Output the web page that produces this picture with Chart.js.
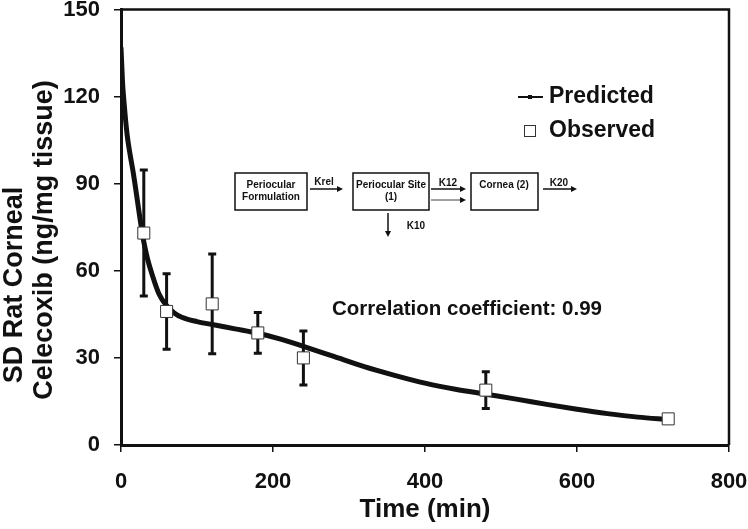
<!DOCTYPE html>
<html lang="en">
<head>
  <meta charset="UTF-8">
  <title>SD Rat Corneal Celecoxib</title>
  <script src="https://cdn.jsdelivr.net/npm/chart.js"></script>
  <style>
    html, body { margin: 0; padding: 0; background: #fff; }
  </style>
</head>
<body>
  <canvas id="myChart" width="748" height="529"></canvas>

  <script>
    // predicted curve
    const predTime = [0, 2, 4, 8, 12, 16, 20, 25, 30, 35, 40, 50, 60, 70, 80, 100, 120, 150, 180, 210, 240, 280, 320, 360, 400, 440, 480, 520, 560, 600, 640, 680, 720];
    const predConc = [137, 125, 118, 107, 100, 94, 87, 78, 70, 64, 59.5, 52, 48, 45.5, 44, 42.5, 41.5, 40, 38.5, 36.5, 34, 30.5, 27, 24, 21.3, 19.2, 17.5, 15.8, 14, 12.3, 10.8, 9.6, 8.8];

    // observed means and SD
    const obsTime = [30, 60, 120, 180, 240, 480, 720];
    const obsConc = [73, 46, 48.6, 38.6, 30, 18.9, 9];
    const obsErr = [21.7, 13, 17.2, 7, 9.3, 6.3, 0];

    const xTicks = [0, 200, 400, 600, 800];
    const yTicks = [0, 30, 60, 90, 120, 150];

    const FONT = '"Liberation Sans", Arial, sans-serif';
    const INK = '#111';

    function arrow(ctx, x1, y1, x2, y2, lw) {
      const ang = Math.atan2(y2 - y1, x2 - x1);
      const hl = 6;
      ctx.lineWidth = lw;
      ctx.beginPath();
      ctx.moveTo(x1, y1);
      ctx.lineTo(x2 - Math.cos(ang) * hl * 0.8, y2 - Math.sin(ang) * hl * 0.8);
      ctx.stroke();
      ctx.beginPath();
      ctx.moveTo(x2, y2);
      ctx.lineTo(x2 - hl * Math.cos(ang) + 3 * Math.sin(ang), y2 - hl * Math.sin(ang) - 3 * Math.cos(ang));
      ctx.lineTo(x2 - hl * Math.cos(ang) - 3 * Math.sin(ang), y2 - hl * Math.sin(ang) + 3 * Math.cos(ang));
      ctx.closePath();
      ctx.fill();
    }

    const extras = {
      id: 'extras',
      beforeDatasetsDraw(chart) {
        const { ctx, scales: { x, y } } = chart;
        ctx.save();
        ctx.strokeStyle = INK;
        ctx.lineWidth = 3;
        obsTime.forEach((t, i) => {
          if (!obsErr[i]) return;
          const px = x.getPixelForValue(t);
          const top = y.getPixelForValue(obsConc[i] + obsErr[i]);
          const bot = y.getPixelForValue(obsConc[i] - obsErr[i]);
          ctx.beginPath();
          ctx.moveTo(px, top); ctx.lineTo(px, bot);
          ctx.moveTo(px - 4, top); ctx.lineTo(px + 4, top);
          ctx.moveTo(px - 4, bot); ctx.lineTo(px + 4, bot);
          ctx.stroke();
        });
        ctx.restore();
      },
      afterDraw(chart) {
        const { ctx, chartArea: a } = chart;
        ctx.save();
        ctx.strokeStyle = INK;
        ctx.fillStyle = INK;

        // top and right edges of the frame
        ctx.lineWidth = 2.5;
        ctx.beginPath();
        ctx.moveTo(a.left, a.top);
        ctx.lineTo(a.right, a.top);
        ctx.lineTo(a.right, a.bottom);
        ctx.stroke();

        // y title, two lines
        ctx.font = 'bold 27px ' + FONT;
        ctx.textAlign = 'center';
        ctx.textBaseline = 'middle';
        [['SD Rat Corneal', 15, 285], ['Celecoxib (ng/mg tissue)', 45, 240]].forEach(([s, tx, ty]) => {
          ctx.save();
          ctx.translate(tx, ty);
          ctx.rotate(-Math.PI / 2);
          ctx.fillText(s, 0, 0);
          ctx.restore();
        });

        // legend
        ctx.font = 'bold 23px ' + FONT;
        ctx.textAlign = 'left';
        ctx.fillText('Predicted', 549, 97);
        ctx.fillText('Observed', 549, 131);
        ctx.lineWidth = 2;
        ctx.beginPath();
        ctx.moveTo(518, 97); ctx.lineTo(543, 97);
        ctx.stroke();
        ctx.fillRect(528, 95, 4, 4);
        ctx.lineWidth = 1;
        ctx.strokeStyle = '#333';
        ctx.strokeRect(524.5, 125.5, 11, 11);
        ctx.strokeStyle = INK;

        // correlation
        ctx.font = 'bold 20.5px ' + FONT;
        ctx.fillText('Correlation coefficient: 0.99', 332, 309);

        // compartment diagram
        ctx.lineWidth = 1.5;
        ctx.strokeRect(235, 173, 72, 37);
        ctx.strokeRect(353, 173, 76, 37);
        ctx.strokeRect(471, 173, 67, 37);
        ctx.font = 'bold 10px ' + FONT;
        ctx.textAlign = 'center';
        ctx.fillText('Periocular', 271, 185);
        ctx.fillText('Formulation', 271, 197);
        ctx.fillText('Periocular Site', 391, 185);
        ctx.fillText('(1)', 391, 197);
        ctx.fillText('Cornea (2)', 504, 185);
        ctx.fillText('Krel', 324, 182);
        ctx.fillText('K12', 448, 183);
        ctx.fillText('K20', 559, 183);
        ctx.fillText('K10', 416, 226);
        arrow(ctx, 310, 189, 343, 189, 1.5);
        arrow(ctx, 431, 189, 466, 189, 1.5);
        arrow(ctx, 431, 200, 466, 200, 0.8);
        arrow(ctx, 543, 189, 577, 189, 1.5);
        arrow(ctx, 388, 213, 388, 237, 1.5);
        ctx.restore();
      }
    };

    new Chart(document.getElementById('myChart'), {
      type: 'line',
      data: {
        datasets: [
          {
            label: 'Observed',
            data: obsTime.map((t, i) => ({ x: t, y: obsConc[i] })),
            showLine: false,
            pointStyle: 'rect',
            pointRadius: 8.5,
            pointBackgroundColor: '#fff',
            pointBorderColor: '#333',
            pointBorderWidth: 1,
            order: 0
          },
          {
            label: 'Predicted',
            data: predTime.map((t, i) => ({ x: t, y: predConc[i] })),
            borderColor: INK,
            borderWidth: 5,
            pointRadius: 0,
            cubicInterpolationMode: 'monotone',
            fill: false,
            order: 1
          }
        ]
      },
      options: {
        responsive: false,
        animation: false,
        layout: { padding: { top: 9, right: 19, left: 0, bottom: 0 } },
        plugins: {
          legend: { display: false },
          tooltip: { enabled: false }
        },
        scales: {
          x: {
            type: 'linear',
            min: 0,
            max: 800,
            afterBuildTicks: s => { s.ticks = xTicks.map(v => ({ value: v })); },
            afterFit: s => { s.height = 84; s.paddingLeft = 0; s.paddingRight = 0; },
            grid: { drawOnChartArea: false, drawTicks: true, tickLength: 7, color: INK, lineWidth: 1.5 },
            border: { display: true, color: INK, width: 3 },
            ticks: { color: INK, padding: 17, font: { family: FONT, size: 22, weight: 'bold' }, maxRotation: 0 },
            title: {
              display: true,
              text: 'Time (min)',
              color: INK,
              font: { family: FONT, size: 26, weight: 'bold', lineHeight: 1.15 },
              padding: { top: 0, bottom: 4 }
            }
          },
          y: {
            type: 'linear',
            min: 0,
            max: 150,
            afterBuildTicks: s => { s.ticks = yTicks.map(v => ({ value: v })); },
            afterFit: s => { s.width = 121; s.paddingTop = 0; s.paddingBottom = 0; },
            grid: { drawOnChartArea: false, drawTicks: true, tickLength: 7, color: INK, lineWidth: 1.5 },
            border: { display: true, color: INK, width: 3 },
            ticks: { color: INK, padding: 14, font: { family: FONT, size: 22, weight: 'bold' } }
          }
        }
      },
      plugins: [extras]
    });
  </script>
</body>
</html>
